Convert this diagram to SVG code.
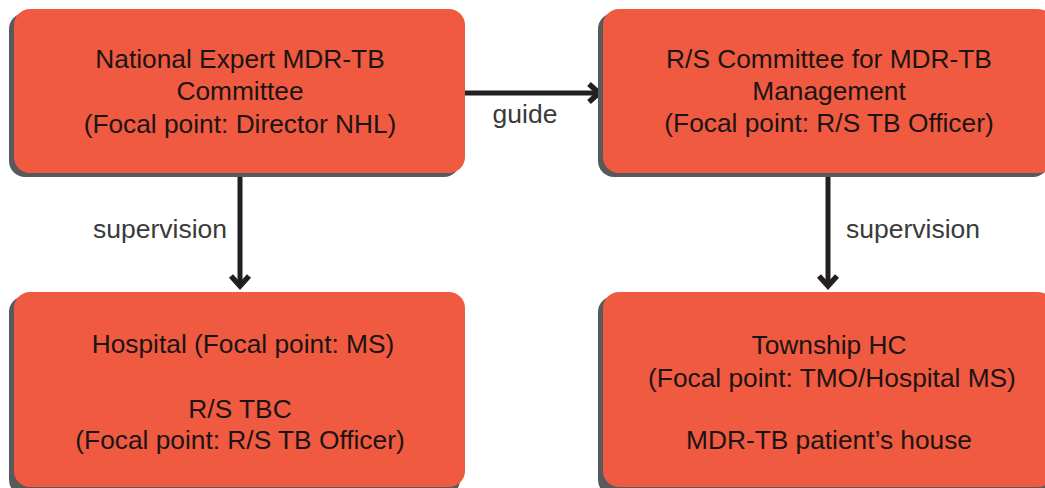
<svg xmlns="http://www.w3.org/2000/svg" width="1045" height="488" viewBox="0 0 1045 488">
<style>
.shadow{fill:#565a5a}
.box{fill:#f05a40}
.t{font-family:"Liberation Sans",Arial,sans-serif;font-size:26.3px;fill:#1c1414;text-anchor:middle}
.lbl{font-family:"Liberation Sans",Arial,sans-serif;font-size:26.5px;fill:#3a3a3a;text-anchor:middle}
.conn{stroke:#231f20;stroke-width:5;fill:none}
</style>
<defs>
<marker id="chev" markerUnits="userSpaceOnUse" viewBox="-16 -12 20 24" markerWidth="20" markerHeight="24" refX="0" refY="0" orient="auto">
<path d="M-11,-9 L-1,0 L-11,9" fill="none" stroke="#231f20" stroke-width="5.5"/>
</marker>
</defs>
<rect width="1045" height="488" fill="#ffffff"/>
<g id="connectors">
<line class="conn" x1="465" y1="93" x2="600" y2="93" marker-end="url(#chev)"/>
<line class="conn" x1="240" y1="173" x2="240" y2="287" marker-end="url(#chev)"/>
<line class="conn" x1="828" y1="173" x2="828" y2="287" marker-end="url(#chev)"/>
<text class="lbl" x="525" y="123">guide</text>
<text class="lbl" x="160" y="238">supervision</text>
<text class="lbl" x="913" y="238">supervision</text>
</g>
<g id="n1">
<rect class="shadow" x="9" y="13" width="451" height="164" rx="16"/>
<rect class="box" x="14" y="9" width="451" height="164" rx="16"/>
<text class="t" x="240" y="68">National Expert MDR-TB</text>
<text class="t" x="240" y="100">Committee</text>
<text class="t" x="240" y="133">(Focal point: Director NHL)</text>
</g>
<g id="n2">
<rect class="shadow" x="598" y="13" width="451" height="164" rx="16"/>
<rect class="box" x="603" y="9" width="451" height="164" rx="16"/>
<text class="t" x="829" y="68">R/S Committee for MDR-TB</text>
<text class="t" x="829" y="100">Management</text>
<text class="t" x="829" y="132">(Focal point: R/S TB Officer)</text>
</g>
<g id="n3">
<rect class="shadow" x="9" y="296" width="451" height="200" rx="16"/>
<rect class="box" x="14" y="292" width="451" height="195" rx="16"/>
<text class="t" x="243" y="353">Hospital (Focal point: MS)</text>
<text class="t" x="240" y="418">R/S TBC</text>
<text class="t" x="240" y="449">(Focal point: R/S TB Officer)</text>
</g>
<g id="n4">
<rect class="shadow" x="598" y="296" width="451" height="200" rx="16"/>
<rect class="box" x="603" y="292" width="451" height="195" rx="16"/>
<text class="t" x="829" y="354">Township HC</text>
<text class="t" x="832" y="387">(Focal point: TMO/Hospital MS)</text>
<text class="t" x="829" y="449">MDR-TB patient’s house</text>
</g>
</svg>
